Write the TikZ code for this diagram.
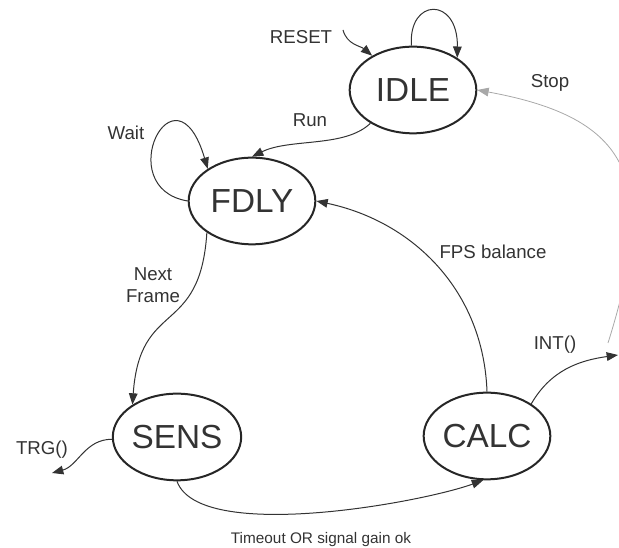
\documentclass[tikz,border=0pt]{standalone}
\usepackage{fontspec}
\setmainfont{Liberation Sans}
\usetikzlibrary{arrows.meta,shapes.geometric}

\definecolor{ink}{HTML}{333333}
\definecolor{faint}{HTML}{A8A8A8}

\begin{document}
\begin{tikzpicture}[x=0.75pt,y=0.75pt,
    >={Triangle[length=8.5pt,width=6.5pt]},
    stnode/.style={ellipse, draw=black!85, line width=1.5pt, inner sep=0pt,
      minimum width=95pt, minimum height=65pt, text=black!80,
      font=\fontsize{25}{30}\selectfont},
    lbl/.style={text=ink, inner sep=0pt, font=\fontsize{14}{16.5}\selectfont},
    edge/.style={draw=ink, line width=0.75pt, ->}]
  \useasboundingbox (0,0) rectangle (619,548);

  % states
  \node[stnode] (idle) at (413,458) {IDLE};
  \node[stnode] (fdly) at (252,347) {FDLY};
  \node[stnode] (sens) at (177,111) {SENS};
  \node[stnode] (calc) at (487,112) {CALC};

  % labels
  \node[lbl] (reset) at (301,511) {RESET};
  \node[lbl] (run) at (310,428) {Run};
  \node[lbl] (wait) at (126,415) {Wait};
  \node[lbl] (stop) at (550,465) {Stop};
  \node[lbl] (fps) at (493,296) {FPS balance};
  \node[lbl, align=center] (next) at (153,263) {Next\\Frame};
  \node[lbl] (int) at (555,203) {INT()};
  \node[lbl] (trg) at (42,98) {TRG()};
  \node[lbl, font=\fontsize{11.5}{14}\selectfont] (tmo) at (321,8) {Timeout OR signal gain ok};

  % free ends
  \coordinate (rs) at (343,518);
  \coordinate (intout) at (618,193);
  \coordinate (trgout) at (52,75);
  \coordinate (stopin) at (608,205);

  % transitions
  \draw[edge] (rs) to[out=-75,in=140] (idle.140);
  \draw[edge] (idle.92) .. controls (408,550) and (458,552) .. (idle.36);
  \draw[edge] (idle.218) .. controls (345,400) and (290,410) .. (fdly.north);
  \draw[edge] (fdly.180) .. controls (110,360) and (175,490) .. (fdly.144);
  \draw[edge] (fdly.215) .. controls (200,210) and (140,250) .. (sens.144);
  \draw[edge] (sens.south) to[out=-70,in=-160,looseness=0.55] (calc.265);
  \draw[edge] (calc.north) to[out=92,in=-12] (fdly.east);
  \draw[edge] (calc.36) to[out=60,in=188] (intout);
  \draw[edge] (sens.182) to[out=180,in=15] (trgout);
  \draw[edge, draw=faint, line width=0.6pt] (stopin) .. controls (660,370) and (630,430) .. (idle.east);
\end{tikzpicture}
\end{document}
